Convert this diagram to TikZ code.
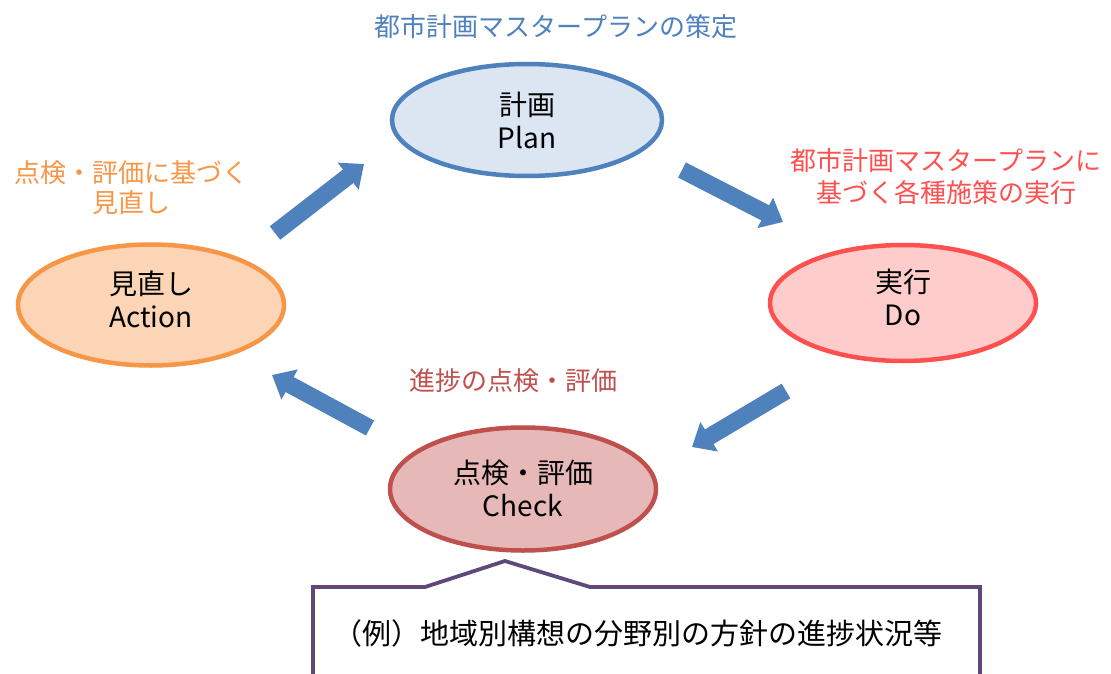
\documentclass[tikz,border=0pt]{standalone}
\usepackage{fontspec}
\setmainfont{Noto Sans CJK JP}
\usetikzlibrary{arrows.meta,shapes.geometric}
\definecolor{pblue}{HTML}{4F81BD}
\definecolor{planfill}{HTML}{DCE6F2}
\definecolor{dored}{HTML}{FF5050}
\definecolor{dofill}{HTML}{FFCCCC}
\definecolor{chkred}{HTML}{C0504D}
\definecolor{chkfill}{HTML}{E6B9B8}
\definecolor{actor}{HTML}{F79646}
\definecolor{actfill}{HTML}{FBD5B5}
\definecolor{callpur}{HTML}{5F497A}
\newcommand{\twoline}[3]{\raisebox{#1}[0pt][0pt]{\begin{tabular}{@{}c@{}}#2\\#3\end{tabular}}}
\tikzset{
  phase/.style={ellipse, line width=4.5pt, inner sep=0pt, align=center,
    font=\fontsize{28}{33}\selectfont, text=black},
  lbl/.style={align=center, inner sep=0pt, font=\fontsize{26}{30}\selectfont},
  blockarrow/.style={draw=pblue, line width=17pt,
    -{Triangle[width=33pt,length=20pt]}},
}
\begin{document}
\begin{tikzpicture}[x=1pt,y=-1pt]
\useasboundingbox (0,0) rectangle (1111,674);
\clip (0,0) rectangle (1111,674);
\fill[white] (0,0) rectangle (1111,674);

% phases
\node[phase, draw=pblue, fill=planfill, minimum width=270pt, minimum height=112pt] (plan) at (527,120) {\twoline{-11pt}{計画}{Plan}};
\node[phase, draw=dored, fill=dofill, minimum width=266pt, minimum height=116pt] (do) at (903,303) {\twoline{-5pt}{実行}{Do}};
\node[phase, draw=chkred, fill=chkfill, minimum width=266pt, minimum height=123pt] (check) at (523,489) {\twoline{-10pt}{点検・評価}{Check}};
\node[phase, draw=actor, fill=actfill, minimum width=266pt, minimum height=121pt] (act) at (151,305) {\twoline{-5pt}{見直し}{Action}};

% labels
\node[lbl, text=pblue] (lplan) at (556,27) {都市計画マスタープランの策定};
\node[lbl, text=dored, font=\fontsize{26}{32}\selectfont] (ldo) at (946,177) {都市計画マスタープランに\\基づく各種施策の実行};
\node[lbl, text=chkred] (lchk) at (513,381) {進捗の点検・評価};
\node[lbl, text=actor] (lact) at (131,188) {点検・評価に基づく\\見直し};

% arrows
\coordinate (a1s) at (275,233); \coordinate (a1e) at (364,164);
\coordinate (a2s) at (682,170); \coordinate (a2e) at (783,222);
\coordinate (a3s) at (786,391); \coordinate (a3e) at (692,447);
\coordinate (a4s) at (370,428); \coordinate (a4e) at (272,375);
\draw[blockarrow] (a1s) -- (a1e);
\draw[blockarrow] (a2s) -- (a2e);
\draw[blockarrow] (a3s) -- (a3e);
\draw[blockarrow] (a4s) -- (a4e);

% callout
\coordinate (cbl) at (313,700);
\coordinate (ctl) at (313,587);
\coordinate (cpl) at (425,587);
\coordinate (cap) at (505,561);
\coordinate (cpr) at (590,587);
\coordinate (ctr) at (980,587);
\coordinate (cbr) at (980,700);
\draw[callpur, line width=3.8pt, line join=miter] (cbl) -- (ctl) -- (cpl) -- (cap) -- (cpr) -- (ctr) -- (cbr);
\node[lbl, text=black, font=\fontsize{29}{32}\selectfont] (ctext) at (638,633) {（例）地域別構想の分野別の方針の進捗状況等};
\end{tikzpicture}
\end{document}
